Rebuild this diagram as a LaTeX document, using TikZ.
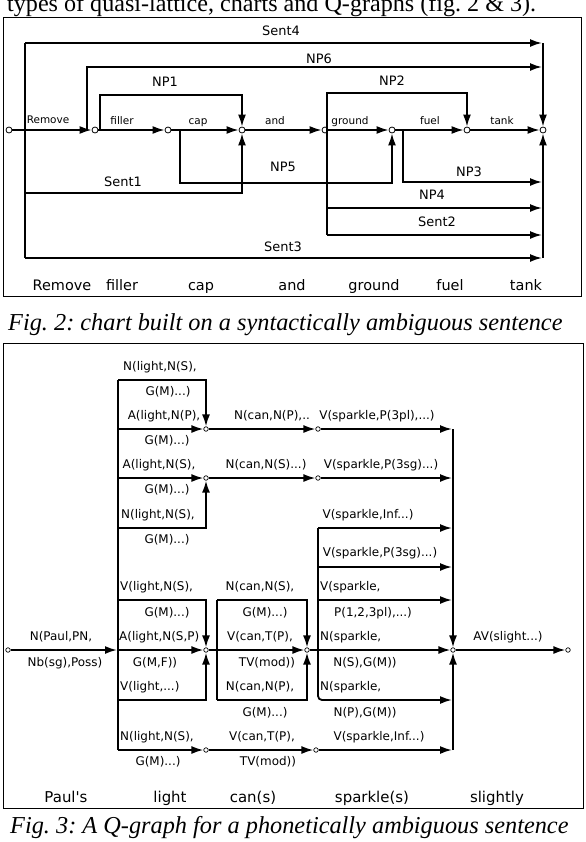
\documentclass[tikz,border=0pt]{standalone}
\usepackage{fontspec}
\setmainfont{Liberation Serif}
\newfontfamily\dv{DejaVu Sans}
\usetikzlibrary{arrows.meta}
\tikzset{
  ln/.style={line width=1.8bp},
  ar/.style={line width=1.8bp, -{Latex[length=12bp,width=8bp]}},
  ptb/.style={circle, draw, fill=white, line width=0.8bp, minimum size=6bp, inner sep=0},
  pts/.style={circle, draw, fill=white, line width=0.7bp, minimum size=4.5bp, inner sep=0},
  lbl/.style={font=\dv\fontsize{10.5}{12}\selectfont, inner sep=0, anchor=base},
  big/.style={font=\dv\fontsize{13}{15}\selectfont, inner sep=0},
  wrd/.style={font=\dv\fontsize{14.5}{16}\selectfont, inner sep=0, anchor=base},
  wrdb/.style={font=\dv\fontsize{15}{16}\selectfont, inner sep=0, anchor=base},
  qlab/.style={font=\dv\fontsize{12}{14}\selectfont, inner sep=0},
  framebox/.style={line width=0.8bp},
  captext/.style={anchor=base west, inner sep=0, font=\itshape\fontsize{24.4}{26}\selectfont}
}
\begin{document}
\frenchspacing
\begin{tikzpicture}[x=1bp,y=-1bp]
\useasboundingbox (0,0) rectangle (586,842);
\fill[white] (0,0) rectangle (586,842);

% header text (cut at top, as in the reference)
\node[anchor=base west, inner sep=0, font=\fontsize{24.2}{26}\selectfont] (hdr) at (7,11.5) {types of quasi-lattice, charts and Q-graphs (fig. 2 \& 3).};

% ================= FIG 2 =================
\draw[framebox] (3,17) rectangle (581,296);

\node[ptb] (n0) at (9,130) {};
\node[ptb] (n1) at (95,130) {};
\node[ptb] (n2) at (168,130) {};
\node[ptb] (n3) at (242,130) {};
\node[ptb] (n4) at (325,130) {};
\node[ptb] (n5) at (392,130) {};
\node[ptb] (n6) at (467,130) {};
\node[ptb] (n7) at (543,130) {};

% main edges
\draw[ar] (n0) -- (n1);
\draw[ar] (n1) -- (n2);
\draw[ar] (n2) -- (n3);
\draw[ar] (n3) -- (n4);
\draw[ar] (n4) -- (n5);
\draw[ar] (n5) -- (n6);
\draw[ar] (n6) -- (n7);

% coordinates
\coordinate (railT) at (25,43);
\coordinate (railB) at (25,258);
\coordinate (s4e) at (542,43);
\coordinate (r7t) at (543,43);
\coordinate (r7b) at (543,258);
\coordinate (np6s) at (87,130);
\coordinate (np6e) at (542,67);
\coordinate (np1s) at (100,130);
\coordinate (np1c) at (242,95);
\coordinate (np2s) at (327,130);
\coordinate (np2c) at (467,93);
\coordinate (np5s) at (180,130);
\coordinate (np5c) at (392,183);
\coordinate (s1s) at (25,193);
\coordinate (np3s) at (403,130);
\coordinate (np3e) at (542,182);
\coordinate (v4t) at (327,93);
\coordinate (v4b) at (327,235);
\coordinate (np4s) at (327,208);
\coordinate (np4e) at (542,208);
\coordinate (s2e) at (542,235);
\coordinate (s3e) at (542,258);

\draw[ln] (railT) -- (railB);
\draw[ar] (railT) -- (s4e);
\draw[ar] (r7t) -- (n7);
\draw[ar] (r7b) -- (n7);
\draw[ar] (np6s) |- (np6e);
\draw[ar] (np1s) |- (np1c) -- (n3);
\draw[ar] (np2s) |- (np2c) -- (n6);
\draw[ar] (np5s) |- (np5c) -- (n5);
\draw[ar] (s1s) -| (n3);
\draw[ar] (np3s) |- (np3e);
\draw[ln] (v4t) -- (v4b);
\draw[ar] (np4s) -- (np4e);
\draw[ar] (v4b) -- (s2e);
\draw[ar] (railB) -- (s3e);

% edge labels
\node[lbl] (lRemove) at (48,123.5) {Remove};
\node[lbl] (lfiller) at (122,124) {filler};
\node[lbl] (lcap) at (198,124) {cap};
\node[lbl] (land) at (275,124) {and};
\node[lbl] (lground) at (350,124) {ground};
\node[lbl] (lfuel) at (430,124) {fuel};
\node[lbl] (ltank) at (502,124) {tank};

\node[big] (lSent4) at (281,31) {Sent4};
\node[big] (lNP6) at (319,59) {NP6};
\node[big] (lNP1) at (165,82) {NP1};
\node[big] (lNP2) at (392,81) {NP2};
\node[big] (lNP5) at (283,167) {NP5};
\node[big] (lSent1) at (123,182) {Sent1};
\node[big] (lNP3) at (469,172) {NP3};
\node[big] (lNP4) at (432,195) {NP4};
\node[big] (lSent2) at (437,222) {Sent2};
\node[big] (lSent3) at (283,247) {Sent3};

\node[wrd] (w1) at (62,290) {Remove};
\node[wrd] (w2) at (122,290) {filler};
\node[wrd] (w3) at (201,290) {cap};
\node[wrd] (w4) at (292,290) {and};
\node[wrd] (w5) at (374,290) {ground};
\node[wrd] (w6) at (450,290) {fuel};
\node[wrd] (w7) at (526,290) {tank};

\node[captext] (cap2) at (8,330) {Fig. 2: chart built on a syntactically ambiguous sentence};

% ================= FIG 3 =================
\draw[framebox] (3,343) rectangle (583,808);

\node[pts] (p0) at (8,650) {};
\node[pts] (nA) at (206,429) {};
\node[pts] (nB) at (206,478) {};
\node[pts] (nA2) at (318,429) {};
\node[pts] (nB2) at (318,478) {};
\node[pts] (nC) at (206,650) {};
\node[pts] (nD) at (206,750) {};
\node[pts] (nE) at (307,650) {};
\node[pts] (nF) at (316,750) {};
\node[pts] (nG) at (453,650) {};
\node[pts] (nH) at (568,650) {};

\coordinate (L1) at (118,380);
\coordinate (LA) at (118,429);
\coordinate (LB) at (118,478);
\coordinate (L4) at (118,528);
\coordinate (L5) at (118,600);
\coordinate (Lm) at (117,650);
\coordinate (LM) at (118,650);
\coordinate (L6) at (118,700);
\coordinate (L7) at (118,750);
\coordinate (C5) at (217,600);
\coordinate (C6) at (217,700);
\coordinate (S4) at (318,528);
\coordinate (S2) at (318,567);
\coordinate (S5) at (318,600);
\coordinate (RA) at (452,429);
\coordinate (RB) at (452,478);
\coordinate (R4) at (452,528);
\coordinate (R2) at (452,567);
\coordinate (R5) at (452,600);
\coordinate (R6) at (452,700);
\coordinate (R7) at (452,750);
\coordinate (RT) at (453,429);
\coordinate (RBt) at (453,750);

\draw[ln] (L1) -- (L7);
\draw[ar] (p0) -- (Lm);
\draw[ar] (L1) -| (nA);
\draw[ar] (LA) -- (nA);
\draw[ar] (LB) -- (nB);
\draw[ar] (L4) -| (nB);
\draw[ar] (nA) -- (nA2);
\draw[ar] (nA2) -- (RA);
\draw[ar] (nB) -- (nB2);
\draw[ar] (nB2) -- (RB);
\draw[ar] (RT) -- (nG);
\draw[ar] (RBt) -- (nG);
\draw[ar, rounded corners=4bp] (S4) |- (R6);
\draw[ar] (S4) -- (R4);
\draw[ar] (S2) -- (R2);
\draw[ar] (S5) -- (R5);
\draw[ar] (L5) -| (nC);
\draw[ar] (LM) -- (nC);
\draw[ar] (L6) -| (nC);
\draw[ar] (L7) -- (nD);
\draw[ln] (C5) -- (C6);
\draw[ar] (C5) -| (nE);
\draw[ar] (C6) -| (nE);
\draw[ar] (nC) -- (nE);
\draw[ar] (nE) -- (nG);
\draw[ar] (nD) -- (nF);
\draw[ar] (nF) -- (R7);
\draw[ar] (nG) -- (nH);

% labels upper block
\node[qlab] (q1) at (160,367) {N(light,N(S),};
\node[qlab] (q2) at (168,392) {G(M)...)};
\node[qlab] (q3) at (164,416) {A(light,N(P),};
\node[qlab] (q4) at (167,441) {G(M)...)};
\node[qlab] (q5) at (159,465) {A(light,N(S),};
\node[qlab] (q6) at (167,490) {G(M)...)};
\node[qlab] (q7) at (158,515) {N(light,N(S),};
\node[qlab] (q8) at (167,540) {G(M)...)};
\node[qlab] (q9) at (272,416) {N(can,N(P),..};
\node[qlab] (q10) at (266,465) {N(can,N(S)...)};
\node[qlab] (q11) at (377,416) {V(sparkle,P(3pl),...)};
\node[qlab] (q12) at (381,465) {V(sparkle,P(3sg)...)};

% sparkle block
\node[qlab] (s1) at (368,515) {V(sparkle,Inf...)};
\node[qlab] (s2) at (380,553) {V(sparkle,P(3sg)...)};
\node[qlab, anchor=west] (s3) at (320,587) {V(sparkle,};
\node[qlab] (s4) at (373,613) {P(1,2,3pl),...)};
\node[qlab, anchor=west] (s5) at (320,637) {N(sparkle,};
\node[qlab] (s6) at (365,663) {N(S),G(M))};
\node[qlab, anchor=west] (s7) at (320,687) {N(sparkle,};
\node[qlab] (s8) at (365,713) {N(P),G(M))};
\node[qlab] (s9) at (379,737) {V(sparkle,Inf...)};

% lower-left block
\node[qlab, anchor=west] (g1) at (120,587) {V(light,N(S),};
\node[qlab] (g2) at (167,613) {G(M)...)};
\node[qlab, anchor=west] (g3) at (119,637) {A(light,N(S,P)};
\node[qlab] (g4) at (155,663) {G(M,F))};
\node[qlab, anchor=west] (g5) at (120,687) {V(light,...)};
\node[qlab, anchor=west] (g6) at (120,737) {N(light,N(S),};
\node[qlab] (g7) at (158,762) {G(M)...)};

% can block
\node[qlab] (c1) at (260,587) {N(can,N(S),};
\node[qlab] (c2) at (265,613) {G(M)...)};
\node[qlab] (c3) at (260,637) {V(can,T(P),};
\node[qlab] (c4) at (267,663) {TV(mod))};
\node[qlab] (c5) at (260,687) {N(can,N(P),};
\node[qlab] (c6) at (265,713) {G(M)...)};
\node[qlab] (c7) at (262,737) {V(can,T(P),};
\node[qlab] (c8) at (268,762) {TV(mod))};

\node[qlab] (pa1) at (61,637) {N(Paul,PN,};
\node[qlab] (pa2) at (65,663) {Nb(sg),Poss)};
\node[qlab] (av) at (508,637) {AV(slight...)};

\node[wrdb] (x1) at (66,802.5) {Paul's};
\node[wrdb] (x2) at (170,802.5) {light};
\node[wrdb] (x3) at (253,802.5) {can(s)};
\node[wrdb] (x4) at (372,802.5) {sparkle(s)};
\node[wrdb] (x5) at (497,802.5) {slightly};

\node[captext] (cap3) at (10,833) {Fig. 3: A Q-graph for a phonetically ambiguous sentence};
\end{tikzpicture}
\end{document}
